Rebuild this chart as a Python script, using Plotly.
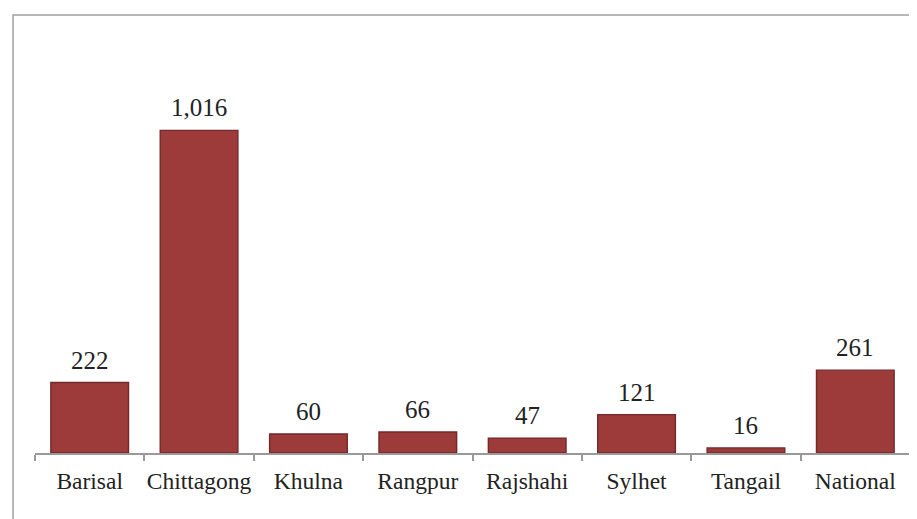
import plotly.graph_objects as go

regions = ["Barisal", "Chittagong", "Khulna", "Rangpur", "Rajshahi", "Sylhet", "Tangail", "National"]
counts = [222, 1016, 60, 66, 47, 121, 16, 261]

serif = "'Liberation Serif', 'Times New Roman', Times, serif"

fig = go.Figure(go.Bar(
    x=regions,
    y=counts,
    marker=dict(color="#9d3a3a", line=dict(color="#732929", width=1.4)),
    hoverinfo="x+y",
))

# value labels above each bar
for name, val in zip(regions, counts):
    fig.add_annotation(
        x=name, y=val, text=f"{val:,}",
        showarrow=False, yanchor="bottom", yshift=7,
        font=dict(family=serif, size=25, color="#222222"),
    )

# outer chart border (cropped at right/bottom like the original)
fig.add_shape(
    type="rect", xref="paper", yref="paper",
    x0=-0.0251, x1=1.012, y0=-0.25, y1=1.1496,
    line=dict(color="#a0a0a0", width=1.5),
)

# page body has an 8px margin, so the figure is sized to fit the window
fig.update_layout(
    width=909, height=511,
    margin=dict(l=27, r=7, t=64, b=66, autoexpand=False),
    paper_bgcolor="white", plot_bgcolor="white",
    bargap=0.29,
    showlegend=False,
    font=dict(family=serif, size=23.5, color="#222222"),
)
fig.update_xaxes(
    showline=True, linecolor="#999999", linewidth=1.5,
    ticks="outside", tickson="boundaries", ticklen=6, tickcolor="#999999", tickwidth=1.5,
    ticklabelstandoff=6, tickangle=0, automargin=False,
    tickfont=dict(family=serif, size=23.5, color="#222222"),
    showgrid=False,
)
fig.update_yaxes(range=[0, 1200], visible=False, showgrid=False)

fig.write_html("out.html")
